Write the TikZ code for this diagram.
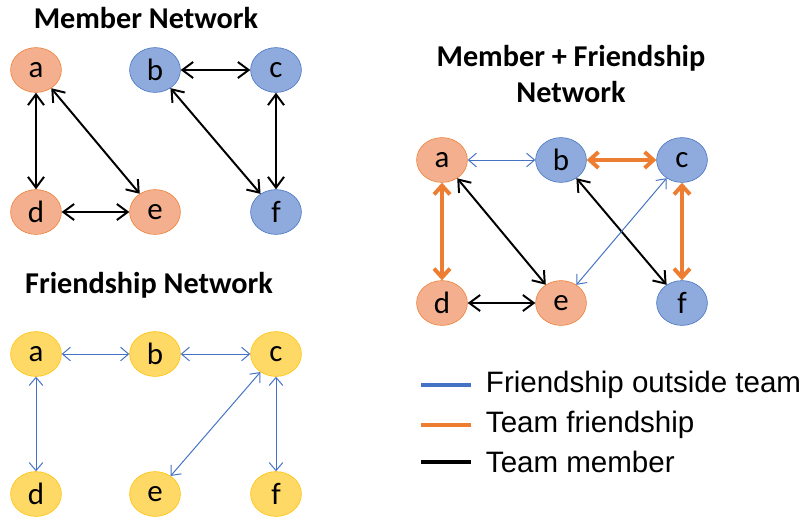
\documentclass[tikz,border=0pt]{standalone}
\usepackage{fontspec}
\setmainfont{Carlito}
\newfontfamily\legendfont{Liberation Sans}
\usepackage{xcolor}
\usepackage{tikz}
\usetikzlibrary{positioning,shapes.geometric,arrows.meta}

\definecolor{orangefill}{HTML}{F4B08E}
\definecolor{orangeline}{HTML}{ED7D31}
\definecolor{bluefill}{HTML}{8FAADC}
\definecolor{blueline}{HTML}{4472C4}
\definecolor{yellowfill}{HTML}{FFD966}
\definecolor{yellowline}{HTML}{FFC000}

\begin{document}
\begin{tikzpicture}[x=0.025cm, y=-0.025cm,
                basenode/.style={ellipse, minimum width=1.27cm, minimum height=1.12cm, inner sep=0pt, font=\fontsize{22}{22}\selectfont},
                orangenode/.style={basenode, draw=orangeline, fill=orangefill},
                bluenode/.style={basenode, draw=blueline, fill=bluefill},
                yellownode/.style={basenode, draw=yellowline, fill=yellowfill},
                titlenode/.style={font=\fontsize{21.5}{25}\selectfont\bfseries, align=center},
                member/.style={line width=1.4pt, {Straight Barb[length=2.7mm,width=4mm]}-{Straight Barb[length=2.7mm,width=4mm]}},
                friend/.style={blueline, line width=0.7pt, {Straight Barb[length=2mm,width=3.4mm]}-{Straight Barb[length=2mm,width=3.4mm]}},
                teamfriend/.style={orangeline, line width=2.8pt, {Straight Barb[length=2.2mm,width=4mm]}-{Straight Barb[length=2.2mm,width=4mm]}},
                legendline/.style={line width=2.2pt},
                legendtext/.style={font=\legendfont\fontsize{21}{22}\selectfont, anchor=west}
                ]
                \useasboundingbox (0,0) rectangle (806,522);

                % member network
                \node[titlenode] (membertitle) at (146,18) {Member Network};
                \node[orangenode] (ma) at (36,70) {a};
                \node[bluenode] (mb) at (155,70) {b};
                \node[bluenode] (mc) at (276,70) {c};
                \node[orangenode] (md) at (36,212) {d};
                \node[orangenode] (me) at (155,212) {e};
                \node[bluenode] (mf) at (276,212) {f};
                \draw[member] (mb) -- (mc);
                \draw[member] (ma) -- (md);
                \draw[member] (ma) -- (me);
                \draw[member] (md) -- (me);
                \draw[member] (mb) -- (mf);
                \draw[member] (mc) -- (mf);

                % friendship network
                \node[titlenode] (friendtitle) at (149,285) {Friendship Network};
                \node[yellownode] (fa) at (36,354) {a};
                \node[yellownode] (fb) at (155,354) {b};
                \node[yellownode] (fc) at (276,354) {c};
                \node[yellownode] (fd) at (36,494) {d};
                \node[yellownode] (fe) at (155,494) {e};
                \node[yellownode] (ff) at (276,494) {f};
                \draw[friend] (fa) -- (fb);
                \draw[friend] (fb) -- (fc);
                \draw[friend] (fa) -- (fd);
                \draw[friend] (fc) -- (fe);
                \draw[friend] (fc) -- (ff);

                % combined network
                \node[titlenode] (bothtitle) at (571,74) {Member + Friendship\\Network};
                \node[orangenode] (ca) at (442,160) {a};
                \node[bluenode] (cb) at (561,160) {b};
                \node[bluenode] (cc) at (682,160) {c};
                \node[orangenode] (cd) at (442,303) {d};
                \node[orangenode] (ce) at (561,303) {e};
                \node[bluenode] (cf) at (682,303) {f};
                \draw[friend] (ca) -- (cb);
                \draw[teamfriend] (cb) -- (cc);
                \draw[teamfriend] (ca) -- (cd);
                \draw[teamfriend] (cc) -- (cf);
                \draw[member] (cd) -- (ce);
                \draw[member] (ca) -- (ce);
                \draw[member] (cb) -- (cf);
                \draw[friend] (cc) -- (ce);

                % legend
                \coordinate (l1a) at (421,385);
                \coordinate (l1b) at (471,385);
                \coordinate (l2a) at (421,425);
                \coordinate (l2b) at (471,425);
                \coordinate (l3a) at (421,462);
                \coordinate (l3b) at (471,462);
                \draw[legendline, blueline] (l1a) -- (l1b);
                \draw[legendline, orangeline] (l2a) -- (l2b);
                \draw[legendline, black] (l3a) -- (l3b);
                \node[legendtext] (outside) [right=0.25cm of l1b] {Friendship outside team};
                \node[legendtext] (teamfriendship) [right=0.25cm of l2b] {Team friendship};
                \node[legendtext] (teammember) [right=0.25cm of l3b] {Team member};
            \end{tikzpicture}
\end{document}
